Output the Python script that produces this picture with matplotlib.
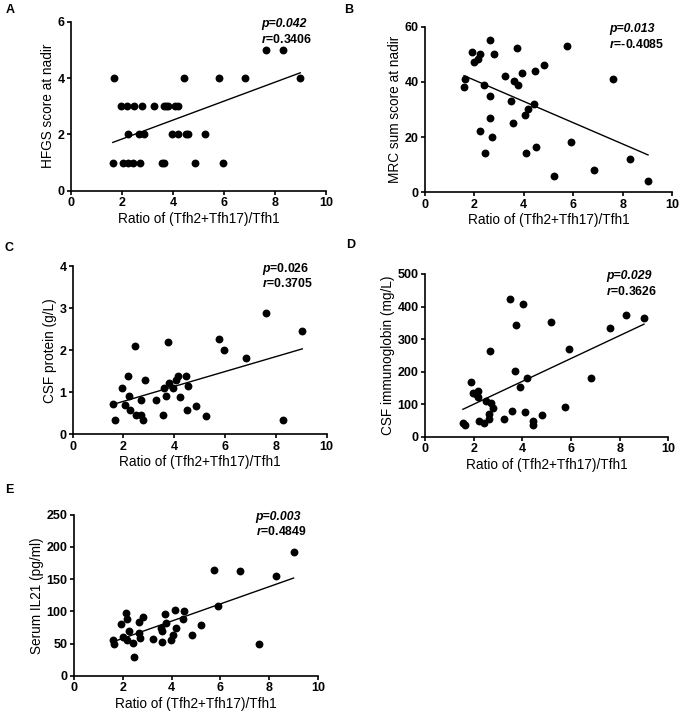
import numpy as np
import matplotlib
matplotlib.use("Agg")
import matplotlib.pyplot as plt

plt.rcParams['font.family'] = ['Liberation Sans', 'DejaVu Sans']
plt.rcParams['mathtext.fontset'] = 'custom'
plt.rcParams['mathtext.it'] = 'Liberation Sans:italic:bold'
plt.rcParams['mathtext.rm'] = 'Liberation Sans:bold'

xlabel = "Ratio of (Tfh2+Tfh17)/Tfh1"

## panel A - HFGS score
x_a = [1.70, 4.45, 5.79, 6.83, 8.99, 7.64, 8.30,
       1.96, 2.21, 2.47, 2.77, 3.27, 3.66, 3.73, 3.80, 4.08, 4.18,
       2.25, 2.68, 2.87, 3.95, 4.21, 4.52, 4.57, 5.26,
       1.64, 2.05, 2.25, 2.45, 2.71, 3.56, 3.65, 4.87, 5.96]
y_a = [4, 4, 4, 4, 4, 5, 5,
       3, 3, 3, 3, 3, 3, 3, 3, 3, 3,
       2, 2, 2, 2, 2, 2, 2, 2,
       1, 1, 1, 1, 1, 1, 1, 1, 1]

## panel B - MRC sum score
x_b = [1.58, 1.64, 1.89, 1.99, 2.13, 2.22, 2.22, 2.39, 2.45, 2.65, 2.64, 2.64,
       2.71, 2.80, 3.22, 3.50, 3.57, 3.61, 3.71, 3.75, 3.91, 4.06, 4.18, 4.11,
       4.42, 4.45, 4.51, 4.81, 5.23, 5.75, 5.90, 6.83, 7.61, 8.29, 9.03]
y_b = [38.0, 41.2, 50.8, 47.1, 48.2, 50.1, 22.2, 38.9, 14.1, 55.2, 35.0, 26.9,
       20.2, 50.0, 42.0, 33.1, 25.2, 40.3, 52.2, 38.9, 43.4, 28.1, 30.2, 14.1,
       32.0, 44.1, 16.3, 46.1, 5.9, 53.1, 18.1, 8.1, 41.2, 12.0, 4.2]

## panel C - CSF protein
x_c = [1.60, 1.68, 1.96, 2.05, 2.17, 2.22, 2.27, 2.45, 2.49, 2.69, 2.69, 2.76,
       2.85, 3.27, 3.54, 3.60, 3.66, 3.75, 3.79, 3.96, 4.07, 4.13, 4.23, 4.46,
       4.49, 4.55, 4.86, 5.25, 5.76, 5.94, 6.84, 7.62, 8.29, 9.04]
y_c = [0.73, 0.35, 1.09, 0.70, 1.39, 0.90, 0.58, 2.09, 0.46, 0.46, 0.81, 0.33,
       1.29, 0.81, 0.46, 1.10, 0.90, 2.19, 1.21, 1.09, 1.30, 1.39, 0.88, 1.39,
       0.57, 1.16, 0.67, 0.44, 2.27, 2.01, 1.81, 2.88, 0.35, 2.46]

## panel D - CSF immunoglobin
x_d = [1.56, 1.64, 1.89, 1.99, 2.10, 2.16, 2.19, 2.23, 2.42, 2.49, 2.66, 2.63,
       2.63, 2.70, 2.79, 3.23, 3.51, 3.59, 3.70, 3.74, 3.90, 4.03, 4.11, 4.18,
       4.42, 4.45, 4.81, 5.19, 5.74, 5.90, 6.81, 7.60, 8.27, 9.00]
y_d = [41, 35, 169, 135, 131, 139, 121, 49, 43, 110, 264, 69,
       54, 102, 87, 54, 424, 78, 202, 343, 152, 407, 77, 179,
       47, 36, 67, 351, 92, 269, 179, 334, 373, 364]

## panel E - serum IL21
x_e = [1.61, 1.64, 1.91, 2.13, 2.18, 2.02, 2.26, 2.16, 2.40, 2.48, 2.67, 2.81,
       2.67, 2.70, 3.25, 3.55, 3.60, 3.60, 3.72, 3.77, 3.96, 4.04, 4.13, 4.17,
       4.45, 4.52, 4.82, 5.20, 5.91, 5.74, 6.79, 7.59, 8.27, 9.00]
y_e = [56, 50, 80, 97, 89, 61, 70, 56, 51, 30, 84, 91,
       66, 59, 58, 75, 69, 53, 96, 82, 56, 63, 102, 75,
       89, 100, 64, 79, 108, 164, 163, 50, 155, 192]


def panel(rect, x, y, ylabel, ymax, ystep, ptext, rtext, letter, lpos):
    ax = fig.add_axes(rect)
    ax.scatter(x, y, s=32, color='black', zorder=3, linewidths=0)
    ## linear regression line over the range of the data
    m, b = np.polyfit(x, y, 1)
    xx = np.array([min(x), max(x)])
    ax.plot(xx, m * xx + b, color='black', lw=1.0)
    ax.set_xlim(0, 10)
    ax.set_ylim(0, ymax)
    ax.set_xticks(np.arange(0, 11, 2))
    ax.set_yticks(np.arange(0, ymax + ystep / 2, ystep))
    for s in ['top', 'right']:
        ax.spines[s].set_visible(False)
    for s in ['left', 'bottom']:
        ax.spines[s].set_linewidth(1.2)
    ax.tick_params(width=1.2, length=3, pad=1.5, labelsize=9)
    for t in ax.get_xticklabels() + ax.get_yticklabels():
        t.set_fontweight('bold')
    ax.set_xlabel(xlabel, fontsize=9.8, labelpad=2)
    ax.set_ylabel(ylabel, fontsize=9.8, labelpad=2)
    ax.text(0.745, 0.985, ptext, transform=ax.transAxes, fontsize=8.8,
            fontweight='bold', va='center', ha='left',
            fontstyle='normal' if '$' in ptext else 'italic')
    ax.text(0.745, 0.895, rtext, transform=ax.transAxes, fontsize=8.8,
            fontweight='bold', va='center', ha='left')
    fig.text(lpos[0], lpos[1], letter, fontsize=9, fontweight='bold',
             ha='left', va='center')
    return ax


fig = plt.figure(figsize=(6.85, 7.18), dpi=100)

panel([0.1036, 0.7344, 0.3723, 0.2354], x_a, y_a, "HFGS score at nadir",
      6, 2, "p=0.042", "$r$=0.3406", "A", (0.008, 0.986))
panel([0.6204, 0.7322, 0.3606, 0.2306], x_b, y_b, "MRC sum score at nadir",
      60, 20, "p=0.013", "$r$=-0.4085", "B", (0.503, 0.986))
panel([0.1061, 0.3951, 0.3708, 0.2344], x_c, y_c, "CSF protein (g/L)",
      4, 1, "$p$=0.026", "$r$=0.3705", "C", (0.007, 0.655))
panel([0.6204, 0.3918, 0.3552, 0.2266], x_d, y_d, "CSF immunoglobin (mg/L)",
      500, 100, "p=0.029", "$r$=0.3626", "D", (0.505, 0.659))
panel([0.1080, 0.0585, 0.3562, 0.2247], x_e, y_e, "Serum IL21 (pg/ml)",
      250, 50, "p=0.003", "$r$=0.4849", "E", (0.007, 0.318))

fig.savefig("out.png", dpi=100)
